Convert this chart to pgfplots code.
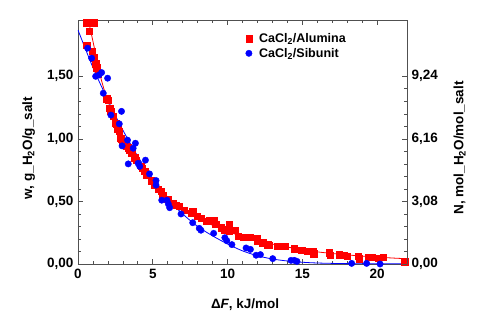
\documentclass[border=0pt]{standalone}
\usepackage{pgfplots}
\pgfplotsset{compat=1.18}
\usepackage{fontspec}
\setmainfont{Liberation Sans}
\definecolor{myred}{RGB}{255,0,0}
\definecolor{myblue}{RGB}{0,0,255}
\definecolor{axgray}{RGB}{80,80,80}
\begin{document}
\begin{tikzpicture}[x=1pt,y=1pt]
\path[use as bounding box] (-78,-61) rectangle (412,264);
\pgfplotsset{
  common/.style={
    at={(0,0)}, anchor=south west,
    scale only axis, width=329pt, height=244pt,
    xmin=0, xmax=22, ymin=0, ymax=1.95,
    tick align=inside,
    major tick length=5pt, minor tick length=3pt,
    axis line style={axgray, line width=0.9pt},
    every tick/.append style={axgray, line width=0.7pt},
    tick label style={font=\bfseries\fontsize{13.5}{15}\selectfont},
    label style={font=\bfseries\fontsize{13.5}{15}\selectfont},
    ytick={0,0.5,1,1.5}, minor y tick num=4,
  }
}
\begin{axis}[common,
  xtick={0,5,10,15,20}, xticklabels={0,5,10,15,20}, minor x tick num=4,
  yticklabels={{0,00},{0,50},{1,00},{1,50}},
  xticklabel style={yshift=-1.5pt},
  yticklabel style={xshift=-1pt},
  xlabel={Δ\textit{F}, kJ/mol},
  xlabel style={at={(axis description cs:0.508,-0.168)}, anchor=center},
  ylabel={w, g\_H\textsubscript{2}O/g\_salt},
  ylabel style={at={(axis description cs:-0.15,0.475)}, anchor=center},
  legend style={at={(0.5,0.962)}, anchor=north west, draw=none, fill=none,
    font=\bfseries\fontsize{12.5}{14}\selectfont, row sep=0pt, column sep=5pt},
  legend cell align=left,
]
\addplot[only marks, mark=square*, mark size=3.2pt, color=myred] coordinates {
(0.58,1.93) (1.07,1.93) (0.75,1.86) (0.58,1.75) (0.95,1.70) (1.09,1.65)
(1.18,1.60) (1.25,1.57) (1.35,1.52) (1.91,1.32) (2.02,1.31) (2.13,1.245)
(2.2,1.22) (2.36,1.18) (2.47,1.125) (2.55,1.12) (2.65,1.08) (2.76,1.06)
(2.84,1.005) (2.9,1.0) (3.0,0.98) (3.1,0.97) (3.24,0.94) (3.35,0.93)
(3.47,0.91) (3.58,0.885) (3.8,0.85) (3.9,0.83) (4.24,0.78) (4.31,0.765)
(4.47,0.74) (4.55,0.71) (4.89,0.667) (5.11,0.63) (5.38,0.60) (5.56,0.58)
(5.67,0.55) (6.0,0.52) (6.33,0.485) (6.56,0.472) (6.78,0.464) (7.11,0.43)
(7.56,0.405) (7.67,0.42) (7.96,0.38) (8.22,0.365) (8.56,0.34) (8.78,0.345)
(9.07,0.35) (9.22,0.32) (9.56,0.29) (9.82,0.275) (10.11,0.32) (10.11,0.26)
(10.51,0.27) (10.73,0.224) (11.09,0.216) (11.47,0.216) (11.98,0.208) (11.98,0.18)
(12.36,0.17) (12.69,0.155) (12.8,0.15) (13.36,0.144) (13.84,0.144) (14.47,0.123)
(14.95,0.11) (15.36,0.10) (15.69,0.10) (15.76,0.083) (16.8,0.09) (16.87,0.07)
(17.47,0.075) (17.76,0.07) (18.02,0.064) (18.73,0.062) (18.8,0.043) (19.4,0.056)
(19.69,0.056) (20.07,0.048) (20.42,0.056) (21.85,0.02)
};
\addlegendentry{CaCl\textsubscript{2}/Alumina}
\addplot[only marks, mark=*, mark size=3.2pt, color=myblue] coordinates {
(0.64,1.725) (0.91,1.645) (1.18,1.50) (1.4,1.51) (1.58,1.53) (1.98,1.485)
(1.69,1.365) (2.2,1.19) (2.91,1.22) (2.76,1.12) (3.31,0.99) (2.95,0.944)
(3.84,0.965) (3.69,0.925) (3.36,0.80) (4.02,0.805) (4.51,0.83) (4.13,0.78)
(4.78,0.72) (5.22,0.667) (5.22,0.63) (5.6,0.51) (5.95,0.51) (6.04,0.48)
(6.13,0.45) (6.89,0.40) (7.67,0.33) (8.11,0.285) (8.22,0.27) (9.07,0.245)
(9.82,0.21) (9.95,0.186) (10.29,0.155) (11.24,0.128) (11.53,0.117) (11.91,0.07)
(12.2,0.075) (13.02,0.043) (14.24,0.029) (14.47,0.029) (14.64,0.021) (18.3,0.005)
(19.3,0.005) (20.2,0.0)
};
\addlegendentry{CaCl\textsubscript{2}/Sibunit}
\addplot[forget plot, smooth, color=myred, line width=0.8pt] coordinates {
(0.69,1.95) (1.0,1.78) (1.5,1.50) (2.0,1.30) (2.5,1.16) (3.0,1.03) (3.5,0.915)
(4.0,0.81) (4.5,0.73) (5.0,0.66) (6.0,0.535) (7.0,0.445) (8.0,0.37) (9.0,0.31)
(10.0,0.26) (11.0,0.22) (12.0,0.186) (13.0,0.159) (14.0,0.136) (15.0,0.113)
(16.0,0.097) (17.0,0.084) (18.0,0.073) (19.0,0.063) (20.0,0.055) (21.0,0.048)
(22.0,0.042)
};
\addplot[forget plot, smooth, color=myblue, line width=0.8pt] coordinates {
(0,1.87) (1,1.57) (2,1.31) (3,1.07) (4,0.86) (5,0.68) (6,0.52) (7,0.40)
(8,0.30) (9,0.225) (10,0.16) (11,0.105) (12,0.066) (13,0.040) (14,0.024)
(15,0.014) (16,0.008) (17,0.005) (18,0.003) (20,0.002) (22,0.001)
};
\end{axis}
\begin{axis}[common,
  axis x line=none, axis y line*=right,
  yticklabels={{0,00},{3,08},{6,16},{9,24}},
  yticklabel style={xshift=1pt},
  ylabel={N, mol\_H\textsubscript{2}O/mol\_salt},
  ylabel style={at={(axis description cs:1.16,0.475)}, anchor=center},
]
\end{axis}
\end{tikzpicture}
\end{document}
